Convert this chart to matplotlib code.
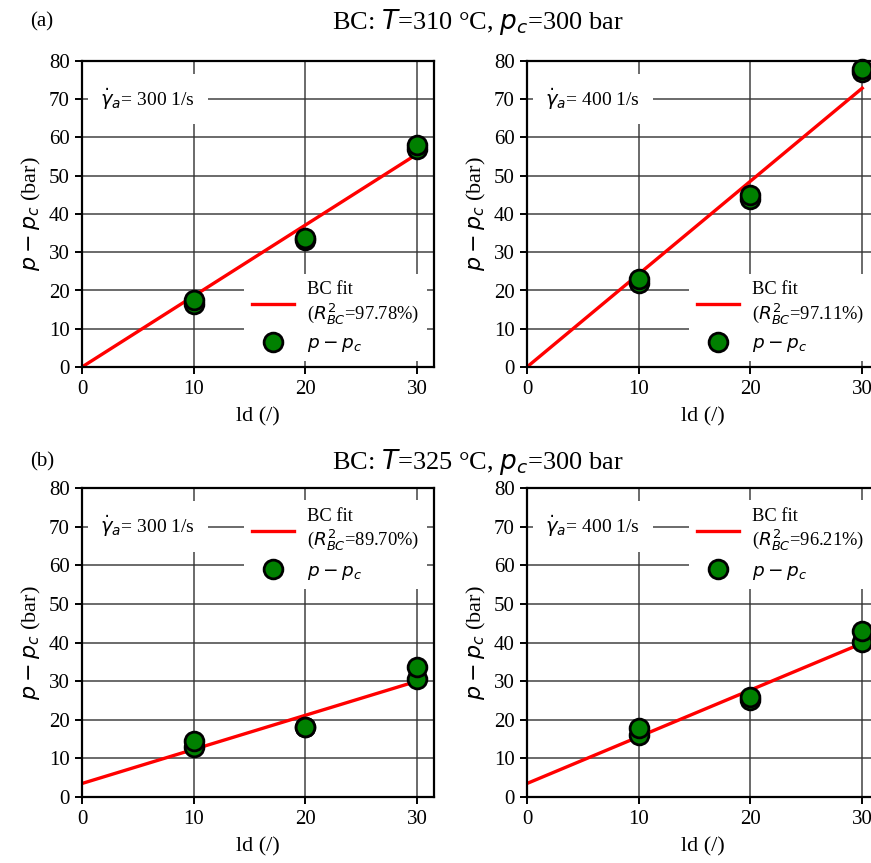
import matplotlib
matplotlib.use("Agg")
import matplotlib.pyplot as plt
import numpy as np

plt.rcParams['font.family'] = ['Liberation Serif', 'DejaVu Serif']
plt.rcParams['mathtext.fontset'] = 'dejavusans'

ld = [10, 10, 20, 20, 30, 30]
# measured p - p_c (two replicates per ld)
dp_310_300 = [16.5, 17.5, 33.3, 33.7, 57.0, 58.0]
dp_310_400 = [22.0, 23.0, 44.0, 45.0, 77.0, 78.0]
dp_325_300 = [13.0, 14.5, 18.0, 18.2, 30.5, 33.7]
dp_325_400 = [16.0, 17.8, 25.0, 26.0, 40.2, 43.0]

fit_x = [0, 30]
fit_310_300 = [0.0, 55.7]
fit_310_400 = [0.0, 72.9]
fit_325_300 = [3.5, 30.0]
fit_325_400 = [3.5, 39.8]

r2 = ["97.78", "97.11", "89.70", "96.21"]
rates = ["300", "400", "300", "400"]
titles = ["BC: $T$=310 °C, $p_c$=300 bar", "BC: $T$=325 °C, $p_c$=300 bar"]
panel_tags = ["(a)", "(b)"]
x_ticks = [0, 10, 20, 30]
y_ticks = [0, 10, 20, 30, 40, 50, 60, 70, 80]

W, H = 871, 863
fig = plt.figure(figsize=(W/100, H/100), dpi=100)

def px_ax(x0, x1, ytop, ybot):
    return [x0/W, 1-ybot/H, (x1-x0)/W, (ybot-ytop)/H]

boxes = [px_ax(82, 434, 61, 367), px_ax(527, 879, 61, 367),
         px_ax(82, 434, 488, 797), px_ax(527, 879, 488, 797)]
data = [dp_310_300, dp_310_400, dp_325_300, dp_325_400]
fits = [fit_310_300, fit_310_400, fit_325_300, fit_325_400]

for i in range(4):
    ax = fig.add_axes(boxes[i])
    ax.set_xlim(0, 31.5)
    ax.set_ylim(0, 80)
    ax.set_xticks(x_ticks)
    ax.set_yticks(y_ticks)
    ax.grid(True, color='#333333', lw=1.2, alpha=0.85, zorder=0)
    ax.set_axisbelow(True)
    for s in ax.spines.values():
        s.set_linewidth(1.6)
        s.set_zorder(10)
    ax.tick_params(direction='out', length=5, width=1.4, labelsize=15, pad=4)
    line, = ax.plot(fit_x, fits[i], color='red', lw=2.4, zorder=3,
                    label="BC fit\n($R^2_{BC}$=" + r2[i] + "%)")
    pts, = ax.plot(ld, data[i], 'o', ms=13.5, mfc='green', mec='black',
                   mew=2.0, zorder=4, label="$p-p_c$", clip_on=False)
    ax.set_xlabel("ld (/)", fontsize=16, labelpad=6)
    ax.set_ylabel("$p-p_c$ (bar)", fontsize=16, labelpad=4)
    ax.text(0.052, 0.875, r"$\dot{\gamma}_a$= " + rates[i] + " 1/s", transform=ax.transAxes,
            fontsize=14, va='center', ha='left',
            bbox=dict(facecolor='white', edgecolor='none', pad=9), zorder=5)
    if i < 2:
        leg = ax.legend(handles=[line, pts], loc='lower left', bbox_to_anchor=(0.445, 0.0),
                        fontsize=13.3, frameon=True, framealpha=1, edgecolor='none',
                        numpoints=1, handlelength=2.3, borderaxespad=0.3, labelspacing=0.45,
                        handletextpad=0.7)
    else:
        leg = ax.legend(handles=[line, pts], loc='upper left', bbox_to_anchor=(0.445, 0.978),
                        fontsize=13.3, frameon=True, framealpha=1, edgecolor='none',
                        numpoints=1, handlelength=2.3, borderaxespad=0.3, labelspacing=0.5,
                        handletextpad=0.7)
    leg.set_zorder(6)

fig.text(30/W, 1-22/H, panel_tags[0], fontsize=15, va='center', ha='left')
fig.text(478/W, 1-22/H, titles[0], fontsize=19, va='center', ha='center')
fig.text(30/W, 1-462/H, panel_tags[1], fontsize=15, va='center', ha='left')
fig.text(478/W, 1-462/H, titles[1], fontsize=19, va='center', ha='center')

fig.savefig("out.png", dpi=100)
